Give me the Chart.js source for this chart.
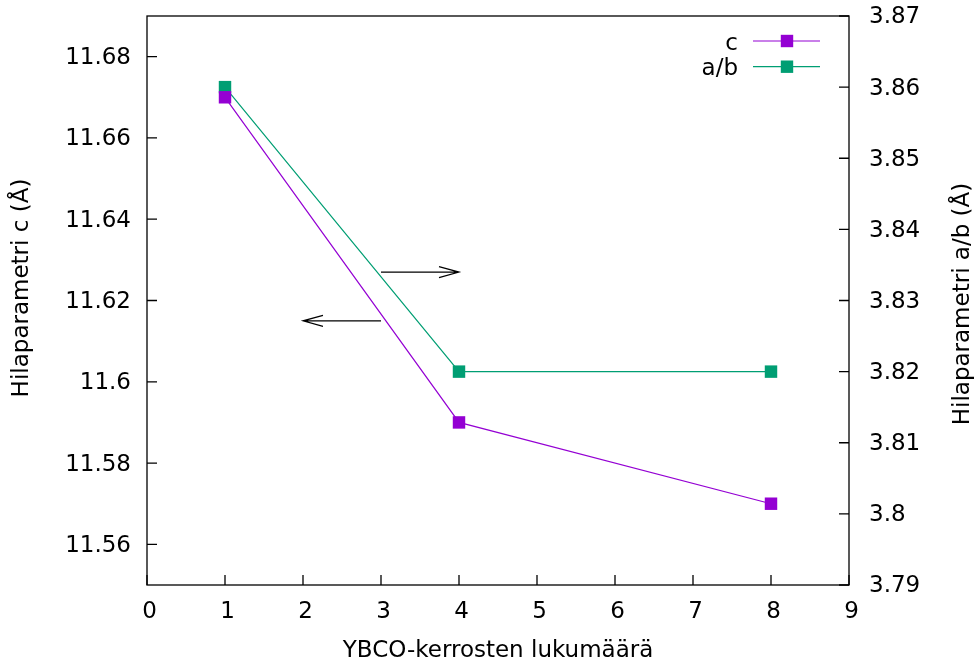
<!DOCTYPE html>
<html>
<head>
<meta charset="utf-8">
<script src="https://cdn.jsdelivr.net/npm/chart.js@4"></script>
<style>
  body { margin: 0; background: #fff; }
</style>
</head>
<body>
<canvas id="chart" width="978" height="663"></canvas>
<script>
// YBCO-kerrosten lukumäärä
var layers = [1, 4, 8];
// hilaparametri c (Å), vasen akseli
var cValues = [11.67, 11.59, 11.57];
// hilaparametri a/b (Å), oikea akseli
var abValues = [3.86, 3.82, 3.82];

var xTicks = [0, 1, 2, 3, 4, 5, 6, 7, 8, 9];
var cTicks = [11.56, 11.58, 11.60, 11.62, 11.64, 11.66, 11.68];
var cTickLabels = ['11.56', '11.58', '11.6', '11.62', '11.64', '11.66', '11.68'];
var abTicks = [3.79, 3.80, 3.81, 3.82, 3.83, 3.84, 3.85, 3.86, 3.87];
var abTickLabels = ['3.79', '3.8', '3.81', '3.82', '3.83', '3.84', '3.85', '3.86', '3.87'];

// nuolet: alku x, loppu x, korkeus vasemman akselin yksiköissä
var arrowFromX = [3, 3];
var arrowToX = [4, 2];
var arrowY = [11.627, 11.615];

var cColor = '#9400d3';
var abColor = '#009e73';
var FONT = '"DejaVu Sans", sans-serif';
var FSIZE = 23;

function toPoints(xs, ys) {
  var pts = [];
  for (var i = 0; i < xs.length; i++) {
    pts.push({x: xs[i], y: ys[i]});
  }
  return pts;
}

// akselin koko kiinni, ei ylimääräistä reunusta tikkitekstien takia
function fixSize(w, h) {
  return function (scale) {
    if (w) scale.width = w;
    if (h) scale.height = h;
    scale.paddingTop = 0;
    scale.paddingBottom = 0;
    scale.paddingLeft = 0;
    scale.paddingRight = 0;
  };
}

// kehys, sisäänpäin osoittavat tikit, nuolet, selite ja y-akselien otsikot
var gnuplotLook = {
  id: 'gnuplotLook',
  afterDatasetsDraw: function (chart) {
    var ctx = chart.ctx;
    var a = chart.chartArea;
    var sx = chart.scales.x, sy = chart.scales.y, sy2 = chart.scales.y2;
    var i;

    ctx.save();
    ctx.strokeStyle = '#000';
    ctx.lineWidth = 1.3;
    ctx.strokeRect(a.left, a.top, a.right - a.left, a.bottom - a.top);

    ctx.beginPath();
    for (i = 0; i < xTicks.length; i++) {
      var px = sx.getPixelForValue(xTicks[i]);
      ctx.moveTo(px, a.bottom);
      ctx.lineTo(px, a.bottom - 10);
    }
    for (i = 0; i < cTicks.length; i++) {
      var py = sy.getPixelForValue(cTicks[i]);
      ctx.moveTo(a.left, py);
      ctx.lineTo(a.left + 10, py);
    }
    for (i = 0; i < abTicks.length; i++) {
      var py2 = sy2.getPixelForValue(abTicks[i]);
      ctx.moveTo(a.right, py2);
      ctx.lineTo(a.right - 10, py2);
    }
    ctx.stroke();

    // nuolet
    ctx.lineWidth = 1.2;
    for (i = 0; i < arrowY.length; i++) {
      var x1 = sx.getPixelForValue(arrowFromX[i]);
      var x2 = sx.getPixelForValue(arrowToX[i]);
      var y = sy.getPixelForValue(arrowY[i]);
      var dir = x2 > x1 ? 1 : -1;
      ctx.beginPath();
      ctx.moveTo(x1, y);
      ctx.lineTo(x2, y);
      ctx.moveTo(x2 - dir * 20, y - 5.5);
      ctx.lineTo(x2, y);
      ctx.lineTo(x2 - dir * 20, y + 5.5);
      ctx.stroke();
    }

    // selite
    ctx.font = FSIZE + 'px ' + FONT;
    ctx.textAlign = 'right';
    ctx.textBaseline = 'alphabetic';
    var ds = chart.data.datasets;
    for (i = 0; i < ds.length; i++) {
      var ry = a.top + 25 + i * 25.7;
      ctx.fillStyle = '#000';
      ctx.fillText(ds[i].label, a.right - 111, ry + 8.5);
      ctx.strokeStyle = ds[i].borderColor;
      ctx.lineWidth = 1.2;
      ctx.beginPath();
      ctx.moveTo(a.right - 96, ry);
      ctx.lineTo(a.right - 29, ry);
      ctx.stroke();
      ctx.fillStyle = ds[i].borderColor;
      ctx.fillRect(a.right - 62 - 6.2, ry - 6.2, 12.4, 12.4);
    }

    // y-akselien otsikot
    ctx.fillStyle = '#000';
    ctx.textAlign = 'center';
    ctx.textBaseline = 'middle';
    ctx.save();
    ctx.translate(22, 288);
    ctx.rotate(-Math.PI / 2);
    ctx.fillText('Hilaparametri c (Å)', 0, 0);
    ctx.restore();
    ctx.save();
    ctx.translate(963, 304);
    ctx.rotate(-Math.PI / 2);
    ctx.fillText('Hilaparametri a/b (Å)', 0, 0);
    ctx.restore();

    ctx.restore();
  }
};

var chart = new Chart(document.getElementById('chart'), {
  type: 'line',
  data: {
    datasets: [{
      label: 'c',
      data: toPoints(layers, cValues),
      yAxisID: 'y',
      borderColor: cColor,
      backgroundColor: cColor,
      borderWidth: 1.2,
      pointStyle: 'rect',
      pointRadius: 8.8,
      pointBorderWidth: 0,
      pointBackgroundColor: cColor
    }, {
      label: 'a/b',
      data: toPoints(layers, abValues),
      yAxisID: 'y2',
      borderColor: abColor,
      backgroundColor: abColor,
      borderWidth: 1.2,
      pointStyle: 'rect',
      pointRadius: 8.8,
      pointBorderWidth: 0,
      pointBackgroundColor: abColor
    }]
  },
  options: {
    responsive: false,
    animation: false,
    devicePixelRatio: 1,
    layout: { padding: { top: 16, left: 0, right: 0, bottom: 0 } },
    plugins: {
      legend: { display: false },
      tooltip: { enabled: false }
    },
    scales: {
      x: {
        type: 'linear',
        position: 'bottom',
        min: 0,
        max: 9,
        afterBuildTicks: function (axis) {
          axis.ticks = xTicks.map(function (v) { return {value: v}; });
        },
        afterFit: fixSize(0, 78),
        grid: { display: false, drawTicks: false },
        border: { display: false },
        ticks: {
          padding: 13,
          labelOffset: 2.5,
          color: '#000',
          font: { family: FONT, size: FSIZE },
          maxRotation: 0,
          autoSkip: false,
          callback: function (value) { return String(value); }
        },
        title: {
          display: true,
          text: 'YBCO-kerrosten lukumäärä',
          color: '#000',
          font: { family: FONT, size: FSIZE, lineHeight: 1 },
          padding: { top: 0, bottom: 0 }
        }
      },
      y: {
        type: 'linear',
        position: 'left',
        min: 11.55,
        max: 11.69,
        afterBuildTicks: function (axis) {
          axis.ticks = cTicks.map(function (v) { return {value: v}; });
        },
        afterFit: fixSize(147, 0),
        grid: { display: false, drawTicks: false },
        border: { display: false },
        ticks: {
          padding: 16,
          labelOffset: 1.5,
          color: '#000',
          font: { family: FONT, size: FSIZE },
          autoSkip: false,
          callback: function (value, index) { return cTickLabels[index]; }
        }
      },
      y2: {
        type: 'linear',
        position: 'right',
        min: 3.79,
        max: 3.87,
        afterBuildTicks: function (axis) {
          axis.ticks = abTicks.map(function (v) { return {value: v}; });
        },
        afterFit: fixSize(129, 0),
        grid: { display: false, drawTicks: false },
        border: { display: false },
        ticks: {
          padding: 20,
          labelOffset: 1.5,
          color: '#000',
          font: { family: FONT, size: FSIZE },
          autoSkip: false,
          callback: function (value, index) { return abTickLabels[index]; }
        }
      }
    }
  },
  plugins: [gnuplotLook]
});
</script>
</body>
</html>
